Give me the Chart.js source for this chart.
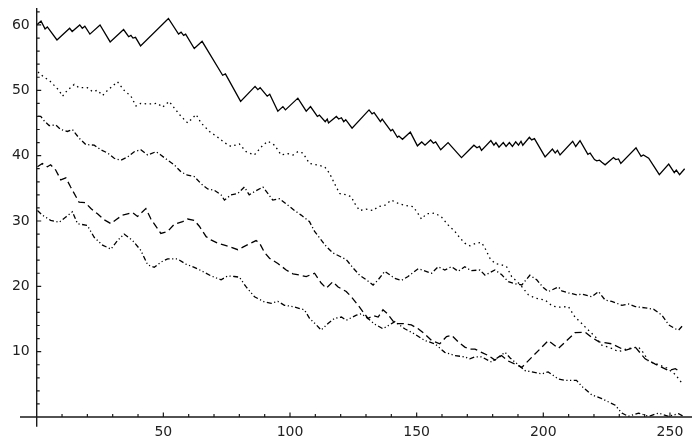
<!DOCTYPE html>
<html><head><meta charset="utf-8">
<script src="https://cdn.jsdelivr.net/npm/chart.js@4/dist/chart.umd.min.js"></script>
<style>html,body{margin:0;padding:0;background:#fff;}canvas{display:block;}</style>
</head><body>
<canvas id="c" width="692" height="441"></canvas>
<script>
// Series 1 (solid)
const s1x=[0,1.7,3.3,4.2,8,13,14,17,18,19,21,25,29,34.3,36.3,37.2,38,39,41,52,56,57,58,58.8,62.2,65.3,73.4,74.5,80.5,86.2,87.3,88.2,91,92,95.2,97.2,98.2,103.1,106.4,108.1,110.8,111.6,113.9,114.7,115.2,118.3,119.2,120.3,121.2,122,124.5,131.2,132.4,133.2,135.7,136.4,139.8,140.5,142.4,143,144.4,147.5,150.3,152,153.3,155.5,156.6,157.5,159.5,162.4,167.7,172.6,173.8,174.8,175.6,179.3,180.5,181.3,182.5,184.2,185.3,186.6,187.8,189.1,190.2,191.2,191.9,194.5,195.4,196.5,200.7,203.6,204.7,205.6,206.6,211.6,212.8,214.5,217.6,218.5,220.2,221.1,222.2,223.1,224.4,227.7,228.6,229.7,230.6,236.6,237.5,238.6,239.5,241.6,245.8,249.5,251.7,252.5,253.8,255.8];
const s1y=[60,60.6,59.4,59.7,57.7,59.5,59.0,60.0,59.5,59.8,58.6,60.0,57.4,59.3,58.2,58.4,58.0,58.1,56.8,61.0,58.6,58.9,58.4,58.6,56.4,57.5,52.3,52.5,48.3,50.6,50.1,50.4,49.1,49.4,46.8,47.5,47.0,48.8,46.8,47.5,46.0,46.2,45.2,45.6,45.0,46.0,45.6,45.8,45.2,45.5,44.2,47.0,46.4,46.6,45.2,45.6,43.8,44.0,42.8,43.0,42.5,43.6,41.5,42.1,41.6,42.4,41.9,42.1,40.9,42.0,39.7,41.6,41.2,41.4,40.8,42.3,41.6,42.0,41.3,42.0,41.4,42.0,41.4,42.1,41.6,42.2,41.6,42.8,42.4,42.6,39.8,41.0,40.4,40.8,40.1,42.2,41.4,42.3,40.2,40.4,39.4,39.2,39.3,39.0,38.6,39.7,39.4,39.5,38.8,41.2,40.6,39.9,40.1,39.6,37.1,38.7,37.4,37.8,37.1,38.0];
// Series 2 (dotted)
const s2x=[0.5,2.9,5,8.8,10.2,12.1,14.8,16.7,20,22,24,26,28,31.9,34.5,37.2,39.2,41.1,44,47.7,49.7,52.3,54.3,57,59.6,62.9,64.9,68.2,71.5,74.1,76.7,80,82.7,85.9,89.3,91.3,93.9,96.5,99.2,101.2,103.1,105.1,107.7,110.5,113.7,115.6,117.6,119.6,122.2,124.2,125.5,127.5,130,132.8,134.8,137.4,140,142.7,145.3,148.6,150.6,151.9,153.9,157.2,159.8,162.4,165.1,167.1,169,171,173.5,175.6,176.9,178.9,180.9,183.5,185.5,187.5,191,194.1,196.7,200.7,203.5,206,209.9,212.5,215.2,217.2,220.5,223.1,227,229.7,233.6,237.6,239.6,241.6,245.5,248.8,252.1,254.7];
const s2y=[52.8,52.0,51.5,50.0,49.1,50.0,50.9,50.4,50.4,49.8,50.0,49.2,50.0,51.3,50.0,49.1,47.6,48.0,47.9,48.0,47.4,48.3,47.3,46.0,45.0,46.3,45.0,43.7,42.8,42.0,41.4,41.8,40.6,40.1,41.6,42.2,41.6,40.1,40.3,40.1,40.6,40.4,38.8,38.6,38.3,37.3,35.7,34.2,34.0,33.7,32.7,31.6,31.8,31.6,32.2,32.4,33.2,32.7,32.4,32.2,31.1,30.3,31.1,31.2,30.6,29.4,28.4,27.4,26.6,26.2,26.6,26.7,25.9,24.3,23.5,23.3,23.0,21.5,20.2,18.7,18.2,17.9,17.0,16.8,16.9,15.3,14.3,13.5,12.3,11.0,10.5,10.0,10.5,10.7,9.8,8.5,8.0,7.5,6.5,5.2];
// Series 3 (dot-dash)
const s3x=[0.5,1.6,3,4.9,7.5,9.5,12.1,14.1,16.7,19.4,22.7,25.3,28,30.6,33.2,35.9,38.5,41.1,43.8,47.1,49,51.7,54.3,57,59.6,62.2,64.9,67.5,70.1,72.8,74.1,76.7,79.4,82,83.9,86,89.3,91.3,93.2,95.9,99.2,101.8,104.4,107.7,109.7,111.7,114.3,117,119.6,122.2,124.9,127.5,130.1,132.8,134.8,137.4,141.4,144,146.6,150.6,155.9,158.5,161.1,163.8,166.4,169,171.5,175,177,180.9,183.5,186.2,188.8,191.5,194.7,197.4,200,202,206,207.3,209.9,213.2,215.2,219.1,221.8,224.4,227,231,233.6,236.3,240.2,243.5,246.8,249.5,252.1,253.4,254.8];
const s3y=[46.0,46.0,45.3,44.6,44.7,44.0,43.7,44.0,42.7,41.7,41.6,40.9,40.4,39.6,39.3,39.8,40.6,40.9,40.1,40.6,40.1,39.3,38.6,37.5,37.0,36.8,35.7,34.9,34.7,34.0,33.2,34.0,34.2,35.2,34.0,34.5,35.2,34.2,33.2,33.4,32.4,31.6,30.9,29.9,28.4,27.4,26.1,25.1,24.6,24.1,22.8,21.7,21.0,20.2,21.0,22.3,21.2,20.9,21.5,22.7,22.0,23.0,22.5,23.0,22.3,23.0,22.4,22.5,21.7,22.5,21.8,20.7,20.4,20.2,21.7,21.0,19.8,19.2,19.9,19.3,19.0,18.7,18.8,18.4,19.2,17.9,17.7,17.1,17.3,16.9,16.7,16.5,15.6,14.1,13.5,13.3,13.9];
// Series 4 (dashed)
const s4x=[0.3,2.2,4.2,5.5,7.5,9.5,11.5,13.4,16.7,19.2,21.4,24,26.6,29.3,31.3,33.9,35.9,37.8,39.8,43.1,45.1,49,51.7,54.3,57.6,59.6,62.2,64.2,66.9,68.8,71.5,74.1,76.7,79.4,81.4,84,86.6,88,89.9,91.9,95.2,98.5,101.2,104,106.4,109.7,112.3,114.3,116.9,119,122.2,124.2,126.9,128.8,130.8,133,134.8,136.7,138.5,141.4,144.5,147.9,150.6,153.2,155.9,159.1,161.8,163.8,166.4,169,171,173,175.6,178.3,180.9,183.5,186,188.8,191.5,202,206,212.5,216.5,219,222,227,232.3,236.3,240.2,244.2,249.5,252.1,254];
const s4y=[38.3,38.8,38.3,38.6,37.8,36.3,36.6,35.2,32.9,32.8,31.9,31.1,30.2,29.6,30.2,30.9,31.1,31.3,30.7,31.9,30.3,28.1,28.4,29.5,29.9,30.3,30.1,29.2,27.6,27.1,26.6,26.3,26.0,25.6,26.0,26.5,27.0,26.6,25.2,24.3,23.5,22.5,21.9,21.7,21.5,22.0,20.5,19.7,20.7,19.9,19.2,18.4,17.1,16.1,15.1,15.5,15.3,16.4,15.8,14.3,14.3,14.1,13.5,12.7,11.7,11.2,12.3,12.5,11.5,10.7,10.4,10.4,9.9,9.4,8.7,9.4,8.6,8.1,7.6,11.7,10.5,12.9,13.0,12.2,11.5,11.2,10.2,10.7,8.9,8.1,7.1,7.4,6.9];
// Series 5 (dash-dot-dot)
const s5x=[0.3,2.2,5.5,8.8,11.5,14.1,16.1,20,22.7,26,29.3,31.9,34.5,37.9,41.1,43.8,46.4,49,51.7,55.6,58.9,62.2,64.9,68.8,72.8,75.4,78,80,82.7,86,89.9,92.6,95.2,97.8,101.1,105.7,107.7,110.4,112.3,115,117.6,120.3,122.2,126.2,128.2,131,133.5,136.7,141.4,145.3,149.2,153.2,157.2,161.1,165.1,169,171,173,175.6,179.6,184.9,187,192.8,195.4,199.4,201.9,206,208.6,213.1,215.2,219.1,223.1,228.4,231,233.6,237.6,241.6,245.5,249.5,253.4,255.4];
const s5y=[31.6,30.9,30.1,29.8,30.6,31.4,29.6,29.3,27.5,26.3,25.7,27.0,28.0,27.0,25.5,23.3,22.9,23.7,24.2,24.2,23.4,22.9,22.4,21.6,21.0,21.6,21.5,21.4,19.9,18.4,17.6,17.4,17.7,17.1,16.9,16.4,15.1,14.1,13.3,14.3,15.1,15.3,14.8,15.6,15.8,15.0,14.2,13.5,14.6,13.5,12.7,11.7,11.2,9.9,9.4,9.2,8.9,9.2,9.2,8.4,9.9,9.0,7.1,6.9,6.6,6.9,5.8,5.6,5.6,4.7,3.4,2.8,1.8,0.6,0.1,0.6,0.1,0.6,0.1,0.5,0.1];

const xLabelTicks=[50,100,150,200,250];
const yLabelTicks=[10,20,30,40,50,60];
const xMinorTicks=[10,20,30,40,60,70,80,90,110,120,130,140,160,170,180,190,210,220,230,240];
const yMinorTicks=[2,4,6,8,12,14,16,18,22,24,26,28,32,34,36,38,42,44,46,48,52,54,56,58,62];
const xAxisSpan=[-6.6,259];
const yAxisSpan=[-1.5,62.6];

function pts(xs,ys){return xs.map((x,i)=>({x:x,y:ys[i]}));}

const axesPlugin={
  id:'mmaAxes',
  afterDatasetsDraw(chart){
    const {ctx,scales:{x,y}}=chart;
    const x0=x.getPixelForValue(0), y0=y.getPixelForValue(0);
    ctx.save();
    ctx.strokeStyle='#1a1a1a';
    ctx.lineWidth=1.4;
    ctx.beginPath();
    ctx.moveTo(x.getPixelForValue(xAxisSpan[0]),y0);
    ctx.lineTo(x.getPixelForValue(xAxisSpan[1]),y0);
    ctx.moveTo(x0,y.getPixelForValue(yAxisSpan[0]));
    ctx.lineTo(x0,y.getPixelForValue(yAxisSpan[1]));
    ctx.stroke();
    ctx.lineWidth=1.2;
    ctx.beginPath();
    xLabelTicks.forEach(v=>{const p=x.getPixelForValue(v);ctx.moveTo(p,y0);ctx.lineTo(p,y0-4.5);});
    xMinorTicks.forEach(v=>{const p=x.getPixelForValue(v);ctx.moveTo(p,y0);ctx.lineTo(p,y0-3);});
    yLabelTicks.forEach(v=>{const p=y.getPixelForValue(v);ctx.moveTo(x0,p);ctx.lineTo(x0+4.5,p);});
    yMinorTicks.forEach(v=>{const p=y.getPixelForValue(v);ctx.moveTo(x0,p);ctx.lineTo(x0+3,p);});
    ctx.stroke();
    ctx.restore();
  }
};

const lineCommon={borderColor:'#000',borderWidth:1.3,pointRadius:0,tension:0,fill:false,clip:false};
const tickFont={family:'DejaVu Sans',size:14};

new Chart(document.getElementById('c'),{
  type:'line',
  data:{datasets:[
    Object.assign({data:pts(s1x,s1y),borderDash:[]},lineCommon),
    Object.assign({data:pts(s2x,s2y),borderDash:[1.5,3.5]},lineCommon),
    Object.assign({data:pts(s3x,s3y),borderDash:[5,2.5,1.2,2.5]},lineCommon),
    Object.assign({data:pts(s4x,s4y),borderDash:[7,4]},lineCommon),
    Object.assign({data:pts(s5x,s5y),borderDash:[5,2.5,1.2,2.5,1.2,2.5]},lineCommon)
  ]},
  options:{
    responsive:false,devicePixelRatio:1,animation:false,
    layout:{padding:0},
    plugins:{legend:{display:false},tooltip:{enabled:false}},
    scales:{
      x:{type:'linear',min:0,max:258.7,
        grid:{display:false,drawTicks:false},border:{display:false},
        ticks:{font:tickFont,color:'#222',padding:7,maxRotation:0,autoSkip:false},
        afterBuildTicks:s=>{s.ticks=xLabelTicks.map(v=>({value:v}));},
        afterFit:s=>{s.height=24;s.paddingLeft=0;s.paddingRight=0;}
      },
      y:{type:'linear',min:0,max:63.82,
        grid:{display:false,drawTicks:false},border:{display:false},
        ticks:{font:tickFont,color:'#222',padding:7,autoSkip:false},
        afterBuildTicks:s=>{s.ticks=yLabelTicks.map(v=>({value:v}));},
        afterFit:s=>{s.width=36.7;s.paddingTop=0;s.paddingBottom=0;}
      }
    }
  },
  plugins:[axesPlugin]
});
</script>
</body></html>
